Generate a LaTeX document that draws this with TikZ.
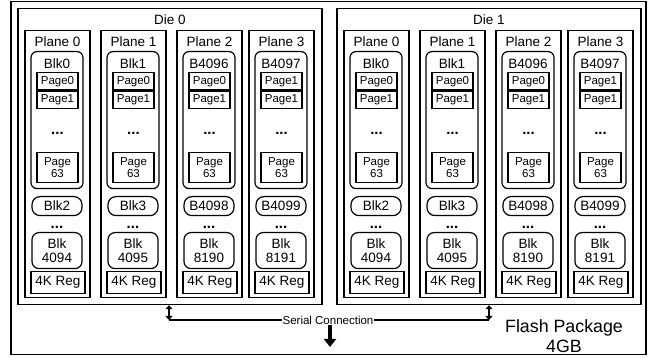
\documentclass[tikz,border=0pt]{standalone}
\usepackage{fontspec}
\setmainfont{Liberation Sans}
\usetikzlibrary{arrows.meta}

\newcommand{\fsz}[2]{\fontsize{#1pt}{#2pt}\selectfont}

\tikzset{
  box/.style={draw, line width=1.2pt, inner sep=0pt, anchor=north},
  blkbox/.style={box, rounded corners=6pt, minimum width=52pt},
  pagebox/.style={box, minimum width=41pt, font=\fsz{11.5}{12}, align=center},
  lbl/.style={inner sep=0pt, font=\fsz{13.5}{15}},
  dotlbl/.style={inner sep=0pt, font=\bfseries\fsz{15}{15}},
  serialline/.style={line width=2.8pt},
  serialtip/.style={line width=2.8pt, {Triangle[width=7pt,length=4pt]}-{Triangle[width=7pt,length=4pt]}},
}

\begin{document}
\begin{tikzpicture}[x=1pt, y=-1pt]
  \useasboundingbox (0,0) rectangle (654,358);
  % flash package
  \node[box, minimum width=635pt, minimum height=353pt] (pkg) at (328.5,1) {};
  \node[inner sep=0pt, align=center, font=\fsz{17.8}{20}] (flash) at (564,336) {Flash Package\\4GB};
  % two dies with four planes each
  \foreach \d/\dx in {0/18, 1/337} {
    \node[box, minimum width=304pt, minimum height=296pt] (d\d) at (\dx+152,8) {};
    \node[lbl, font=\fsz{13.5}{15}] (d\d-lbl) at (\dx+152,20) {Die \d};
    \foreach \p/\po/\ba/\pa/\bb/\bc in {0/7/Blk0/Page0/Blk2/4094, 1/83/Blk1/Page0/Blk3/4095,
                                        2/159/B4096/Page0/B4098/8190, 3/231/B4097/Page1/B4099/8191} {
      \pgfmathsetmacro{\x}{\dx+\po}
      \node[box, minimum width=65pt, minimum height=267pt] (d\d-p\p) at (\x+32.5,30) {};
      \node[lbl] at (\x+32.5,42) {Plane \p};
      % first block with its pages
      \node[blkbox, minimum height=137pt] (d\d-p\p-b0) at (\x+32,51) {};
      \node[lbl] at (\x+32,63.5) {\ba};
      \node[pagebox, minimum height=17.5pt] (d\d-p\p-pg0) at (\x+32.5,72) {\pa};
      \node[pagebox, minimum height=17.5pt] (d\d-p\p-pg1) at (d\d-p\p-pg0.south) {Page1};
      \node[dotlbl] at (\x+32.5,133) {...};
      \node[pagebox, minimum height=30pt, font=\fsz{11.5}{11.5}] (d\d-p\p-pg63) at (\x+32.5,152) {Page\\63};
      % remaining blocks and the page register
      \node[blkbox, rounded corners=8pt, minimum width=50pt, minimum height=19pt, font=\fsz{13.5}{15}] (d\d-p\p-b1) at (\x+32,196) {\bb};
      \node[dotlbl] at (\x+32,227) {...};
      \node[blkbox, rounded corners=7pt, minimum width=50pt, minimum height=36pt, align=center, font=\fsz{13.5}{14.5}] (d\d-p\p-bn) at (\x+32,232) {Blk\\\bc};
      \node[box, minimum width=54pt, minimum height=22pt, font=\fsz{13.5}{15}] (d\d-p\p-reg) at (\x+33,271) {4K Reg};
    }
  }
  % serial connection between the dies
  \coordinate (c0) at (169,320);
  \coordinate (c1) at (489,320);
  \coordinate (out) at (330,347);
  \node[inner sep=0.5pt, fill=white, font=\fsz{11.5}{13}] (serial) at (328,320) {Serial Connection};
  \draw[serialtip] (c0 |- d0.south) -- (c0);
  \draw[serialtip] (c1 |- d1.south) -- (c1);
  \draw[serialline] (c0) -- (serial.west);
  \draw[serialline] (serial.east) -- (c1);
  \draw[line width=4pt, -{Triangle[width=12pt,length=8pt]}] (serial.south -| out) -- (out);
\end{tikzpicture}
\end{document}
